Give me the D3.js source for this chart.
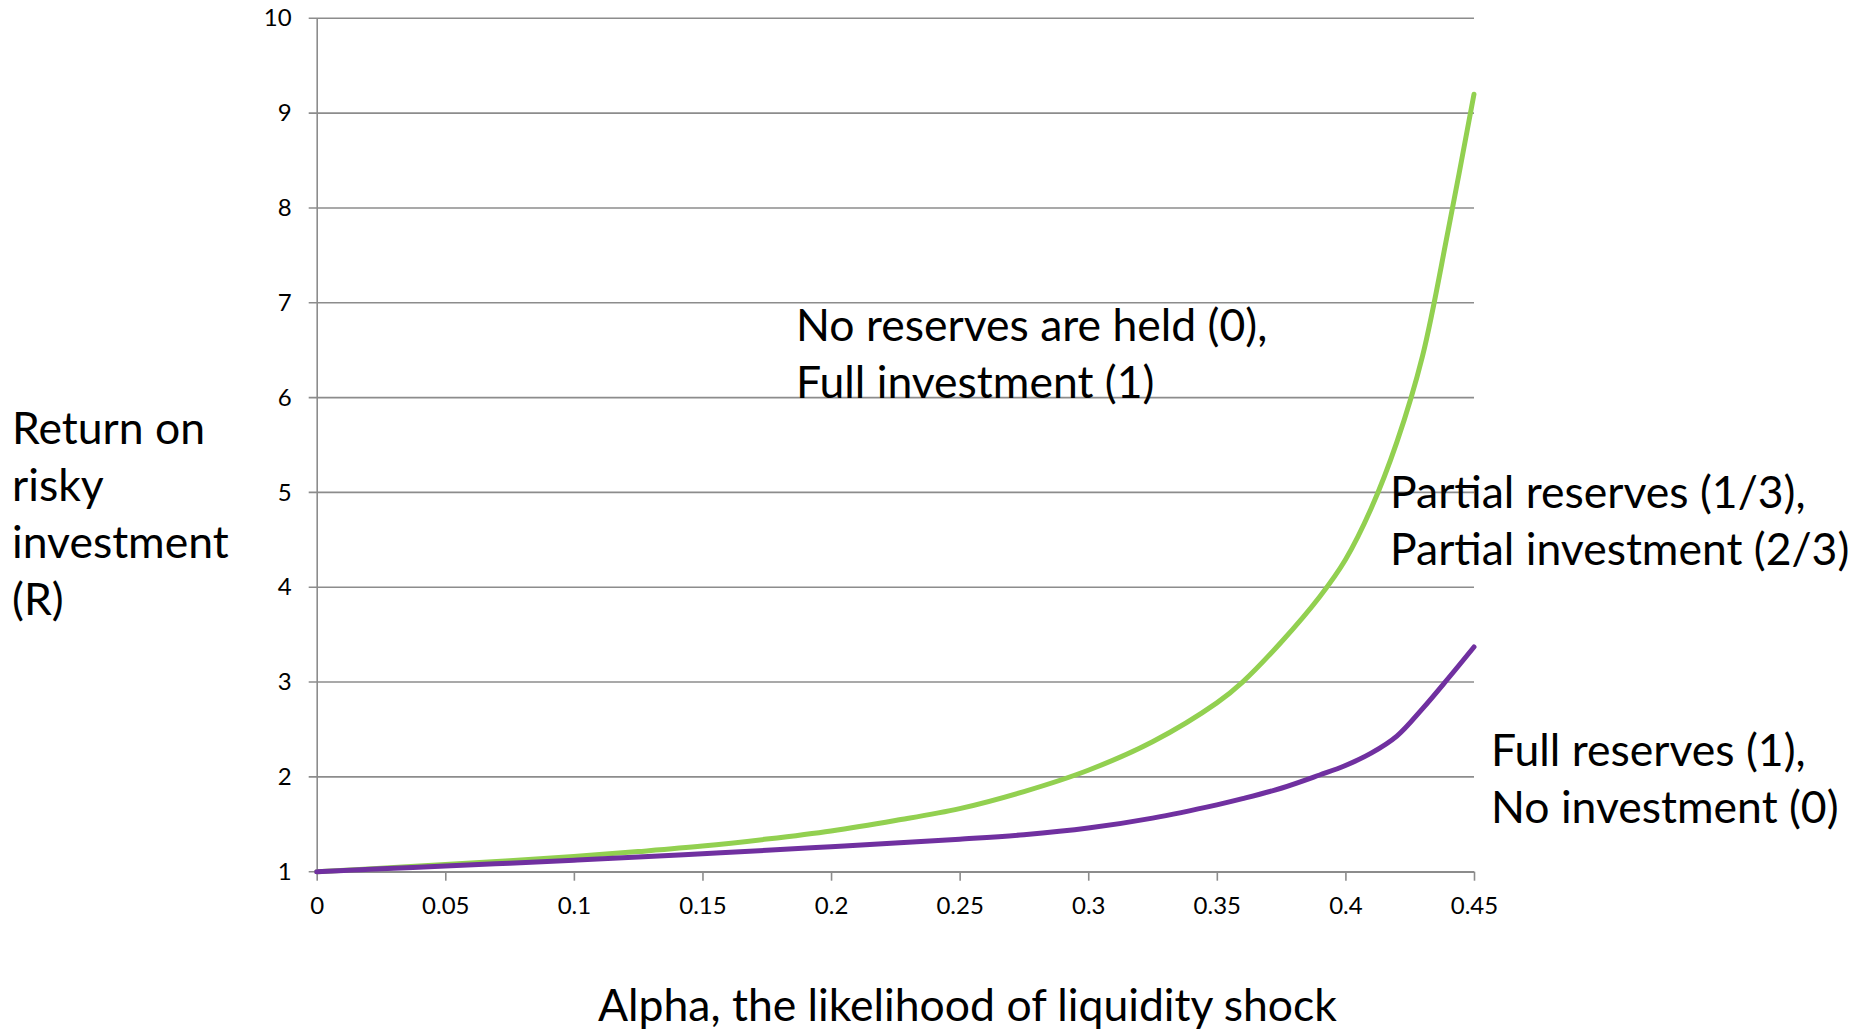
<!DOCTYPE html>
<html>
<head>
<meta charset="utf-8"/>
<script src="https://cdnjs.cloudflare.com/ajax/libs/d3/7.8.5/d3.min.js"></script>
<style>
  body { margin: 0; background: #fff; }
  text { font-family: Lato, "Open Sans", sans-serif; fill: #000; }
</style>
</head>
<body>
<script>
// values
const alpha = [0, 0.025, 0.05, 0.075, 0.1, 0.125, 0.15, 0.175, 0.2, 0.225, 0.25, 0.275,
               0.3, 0.325, 0.35, 0.36, 0.375, 0.39, 0.4, 0.41, 0.42, 0.43, 0.44, 0.45];
// no reserves / full investment (green)
const noReserves = [1, 1.036, 1.075, 1.116, 1.16, 1.212, 1.27, 1.344, 1.43, 1.54, 1.665, 1.845,
                    2.07, 2.37, 2.78, 3.0, 3.42, 3.9, 4.29, 4.83, 5.53, 6.44, 7.77, 9.2];
// full reserves / no investment (purple)
const fullReserves = [1, 1.03, 1.06, 1.09, 1.122, 1.155, 1.19, 1.226, 1.264, 1.302, 1.343, 1.39,
                      1.46, 1.565, 1.705, 1.77, 1.88, 2.02, 2.12, 2.25, 2.43, 2.72, 3.04, 3.37];

const xTicks = [0, 0.05, 0.1, 0.15, 0.2, 0.25, 0.3, 0.35, 0.4, 0.45];
const xTickLabels = ['0', '0.05', '0.1', '0.15', '0.2', '0.25', '0.3', '0.35', '0.4', '0.45'];
const yTicks = [1, 2, 3, 4, 5, 6, 7, 8, 9, 10];

const svgW = 1859, svgH = 1030;
const margin = { left: 316.7, top: 18.3 };
const w = 1157.3, h = 853.4;

const svg = d3.select('body').append('svg')
                              .attr('width', svgW)
                              .attr('height', svgH);

const x = d3.scaleLinear().domain([0, 0.45]).range([0, w]);
const y = d3.scaleLinear().domain([1, 10]).range([h, 0]);

const g = svg.append('g').attr('transform', `translate(${margin.left},${margin.top})`);

// horizontal gridlines (start a little left of the axis, like the tick marks)
g.selectAll('line.grid')
  .data(yTicks)
  .enter().append('line')
  .attr('class', 'grid')
  .attr('x1', -8).attr('x2', w)
  .attr('y1', d => y(d)).attr('y2', d => y(d))
  .attr('stroke', '#8c8c8c')
  .attr('stroke-width', 1.6);

// y axis
const yAxis = g.append('g')
  .call(d3.axisLeft(y).tickValues(yTicks).tickSize(0).tickPadding(25));
yAxis.select('.domain').attr('stroke', '#8c8c8c').attr('stroke-width', 1.6);
yAxis.selectAll('text').style('font-size', '24px').attr('fill', '#000');

// x axis
const xAxis = g.append('g')
  .attr('transform', `translate(0,${h})`)
  .call(d3.axisBottom(x).tickValues(xTicks).tickSize(9).tickSizeOuter(0)
          .tickPadding(16).tickFormat((d, i) => xTickLabels[i]));
xAxis.select('.domain').attr('stroke', '#8c8c8c').attr('stroke-width', 1.6);
xAxis.selectAll('.tick line').attr('stroke', '#8c8c8c').attr('stroke-width', 1.6);
xAxis.selectAll('text').style('font-size', '24px').attr('fill', '#000');

// curves
const line = d3.line()
  .x(d => x(d[0]))
  .y(d => y(d[1]))
  .curve(d3.curveCatmullRom.alpha(0.5));

g.append('path')
  .datum(d3.zip(alpha, noReserves))
  .attr('d', line)
  .attr('fill', 'none')
  .attr('stroke', '#92d050')
  .attr('stroke-width', 5)
  .attr('stroke-linecap', 'round');

g.append('path')
  .datum(d3.zip(alpha, fullReserves))
  .attr('d', line)
  .attr('fill', 'none')
  .attr('stroke', '#7030a0')
  .attr('stroke-width', 5)
  .attr('stroke-linecap', 'round');

// text boxes
const labels = [
  { x: 796, y: 341, lines: ['No reserves are held (0),', 'Full investment (1)'] },
  { x: 1390, y: 508, lines: ['Partial reserves (1/3),', 'Partial investment (2/3)'] },
  { x: 1491, y: 766, lines: ['Full reserves (1),', 'No investment (0)'] },
  { x: 12, y: 444, lines: ['Return on', 'risky', 'investment', '(R)'] },
  { x: 598, y: 1021, lines: ['Alpha, the likelihood of liquidity shock'] }
];

labels.forEach(lb => {
  const t = svg.append('text')
    .attr('x', lb.x)
    .attr('y', lb.y)
    .style('font-size', '44.5px');
  t.selectAll('tspan')
    .data(lb.lines)
    .enter().append('tspan')
    .attr('x', lb.x)
    .attr('dy', (d, i) => i === 0 ? 0 : 57)
    .text(d => d);
});
</script>
</body>
</html>
